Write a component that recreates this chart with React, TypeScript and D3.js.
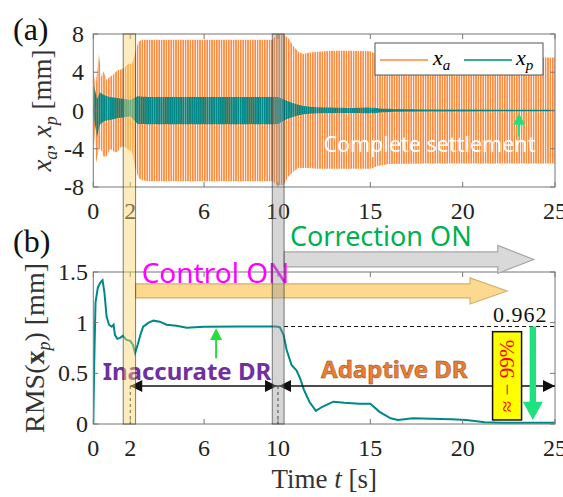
import React from 'react';
import * as d3 from 'd3';

// ---- data ----
const tickX = [0, 2, 6, 10, 15, 20, 25];
const tickTopY = [-8, -4, 0, 4, 8];
const tickBotY = [0, 0.5, 1, 1.5];

// x_a envelope (peaks of the fast oscillation)
const xaTime = [0, 0.07, 0.15, 0.3, 0.45, 0.55, 0.72, 0.9, 1.1, 1.3, 1.5, 1.7, 1.9, 2.1, 2.26, 2.44, 2.62, 3.0, 5.0, 7.0, 9.0, 9.7, 9.95, 10.3, 10.56, 10.83, 11.1, 11.37, 11.64, 12.1, 13.0, 14.0, 15.0, 15.4, 16.0, 18.0, 20.0, 22.0, 25.0];
const xaUpper = [0, 3.5, 3.0, 5.9, 3.5, 4.1, 3.2, 3.5, 3.8, 4.2, 4.3, 4.5, 4.9, 4.9, 6.0, 7.2, 7.4, 7.4, 7.4, 7.4, 7.4, 7.4, 8.0, 8.0, 7.55, 6.75, 6.15, 5.9, 6.05, 6.15, 6.25, 6.25, 6.2, 5.8, 5.6, 5.55, 5.55, 5.55, 5.55];
const xaLower = [0, -3.0, -5.5, -4.0, -4.2, -4.8, -4.8, -4.0, -4.3, -4.4, -3.8, -3.8, -4.1, -4.3, -5.9, -7.0, -7.3, -7.4, -7.4, -7.4, -7.4, -7.4, -7.8, -7.8, -6.9, -6.4, -6.0, -6.0, -6.0, -6.1, -6.1, -6.1, -6.1, -5.8, -5.6, -5.55, -5.55, -5.55, -5.55];

// x_p envelope
const xpTime = [0, 0.05, 0.2, 0.35, 0.6, 0.9, 1.3, 1.7, 2.0, 2.4, 3.0, 6.0, 9.7, 10.0, 10.38, 10.83, 11.37, 12.1, 13.9, 14.8, 15.2, 15.5, 16.3, 17.0, 18.3, 20.2, 22.0, 25.0];
const xpUpper = [0, 2.6, 1.2, 1.9, 1.6, 1.4, 1.3, 1.2, 1.1, 1.5, 1.4, 1.4, 1.4, 1.4, 1.1, 0.75, 0.47, 0.33, 0.26, 0.32, 0.3, 0.22, 0.15, 0.12, 0.09, 0.07, 0.06, 0.06];
const xpLower = [0, -1.0, -2.8, -1.5, -1.1, -1.0, -0.8, -0.7, -0.6, -1.4, -1.45, -1.45, -1.45, -1.4, -1.0, -0.65, -0.4, -0.3, -0.26, -0.3, -0.28, -0.2, -0.13, -0.1, -0.08, -0.07, -0.06, -0.06];

// RMS(x_p)
const rmsTime = [0, 0.05, 0.12, 0.25, 0.4, 0.5, 0.6, 0.72, 0.85, 1.0, 1.1, 1.17, 1.3, 1.45, 1.6, 1.8, 2.0, 2.15, 2.26, 2.4, 2.55, 2.7, 3.0, 3.25, 3.6, 3.97, 4.5, 5.06, 6.0, 8.0, 9.9, 10.1, 10.3, 10.47, 10.74, 11.0, 11.2, 11.4, 11.7, 12.05, 12.4, 13.0, 13.6, 14.4, 15.0, 15.5, 16.1, 16.5, 17.3, 18.3, 19.4, 20.2, 21.2, 22.1, 25.0];
const rmsValue = [0, 0.6, 1.2, 1.35, 1.40, 1.42, 1.3, 1.06, 0.98, 0.96, 0.98, 0.88, 0.84, 0.85, 0.87, 0.83, 0.82, 0.78, 0.70, 0.78, 0.88, 0.96, 1.0, 1.02, 1.01, 0.98, 0.97, 0.95, 0.96, 0.962, 0.962, 0.955, 0.88, 0.73, 0.58, 0.53, 0.45, 0.34, 0.22, 0.13, 0.17, 0.22, 0.21, 0.20, 0.20, 0.12, 0.056, 0.04, 0.056, 0.053, 0.046, 0.04, 0.017, 0.013, 0.013];

// shaded phases [start, end] in seconds
const controlBand = [1.62, 2.29];
const correctionBand = [9.69, 10.33];
const steadyRms = 0.962;

const ORANGE = '#fd8a3d';
const TEAL = '#008787';
const SERIF = "'Liberation Serif', 'Times New Roman', serif";
const SANS = "'Noto Sans', 'Open Sans', sans-serif";

export default function App() {
    const x = d3.scaleLinear().domain([0, 25]).range([93.3, 555]);
    const yA = d3.scaleLinear().domain([-8, 8]).range([187, 34]);
    const yB = d3.scaleLinear().domain([0, 1.5]).range([424, 272]);

    const xaArea = d3.area<number>()
        .x(i => x(xaTime[i])).y0(i => yA(xaLower[i])).y1(i => yA(xaUpper[i]));
    const xpArea = d3.area<number>()
        .x(i => x(xpTime[i])).y0(i => yA(xpLower[i])).y1(i => yA(xpUpper[i]));
    const rmsLine = d3.line<number>()
        .x(i => x(rmsTime[i])).y(i => yB(rmsValue[i]));

    const [x0, x1] = x.range();

    // block arrow polygon
    const blockArrow = (xs: number, xh: number, xt: number, yc: number, bh: number, hh: number) =>
        `${xs},${yc - bh} ${xh},${yc - bh} ${xh},${yc - hh} ${xt},${yc} ${xh},${yc + hh} ${xh},${yc + bh} ${xs},${yc + bh}`;

    // vertical thin arrow, tip at yt, head base yh, tail ys
    const vArrow = (xc: number, ys: number, yh: number, yt: number, sw: number, hw: number) =>
        `${xc - sw},${ys} ${xc - sw},${yh} ${xc - hw},${yh} ${xc},${yt} ${xc + hw},${yh} ${xc + sw},${yh} ${xc + sw},${ys}`;

    const axisBox = (yScale: d3.ScaleLinear<number, number>, yTicks: number[], labelRight: number) => {
        const [yb, yt] = yScale.range();
        return (
            <g>
                <rect x={x0} y={yt} width={x1 - x0} height={yb - yt} fill="none" stroke="#777" strokeWidth={1} />
                {tickX.map(t => (
                    <g key={'tx' + t}>
                        <line x1={x(t)} x2={x(t)} y1={yb} y2={yb - 5} stroke="#777" />
                        <line x1={x(t)} x2={x(t)} y1={yt} y2={yt + 5} stroke="#777" />
                    </g>
                ))}
                {yTicks.map(v => (
                    <g key={'ty' + v}>
                        <line x1={x0} x2={x0 + 5} y1={yScale(v)} y2={yScale(v)} stroke="#777" />
                        <line x1={x1} x2={x1 - 5} y1={yScale(v)} y2={yScale(v)} stroke="#777" />
                        <text x={labelRight} y={yScale(v) + 8} textAnchor="end" fontSize={24} fontFamily={SERIF} fill="#222">{v}</text>
                    </g>
                ))}
                {tickX.map(t => (
                    <text key={'lx' + t} x={x(t)} y={yb + 32} textAnchor="middle" fontSize={24} fontFamily={SERIF} fill="#222">{t}</text>
                ))}
            </g>
        );
    };

    const arrowY = yB(0.375);
    const head = (xt: number, dir: number) =>
        `${xt},${arrowY} ${xt - dir * 12},${arrowY - 6} ${xt - dir * 12},${arrowY + 6}`;

    return (
        <svg width={563} height={497} style={{ position: 'absolute', left: 0, top: 0, background: '#fff' }}>
            <defs>
                <pattern id="stripeA" width={2.4} height={10} patternUnits="userSpaceOnUse">
                    <rect width={1.6} height={10} fill={ORANGE} />
                </pattern>
                <pattern id="stripeP" width={2.2} height={10} patternUnits="userSpaceOnUse">
                    <rect width={1.9} height={10} fill={TEAL} />
                </pattern>
                <clipPath id="clipA">
                    <rect x={x0} y={yA(8)} width={x1 - x0} height={yA(-8) - yA(8)} />
                </clipPath>
                <clipPath id="clipB">
                    <rect x={x0} y={yB(1.5)} width={x1 - x0} height={yB(0) - yB(1.5)} />
                </clipPath>
            </defs>

            {/* (a) displacement */}
            <g clipPath="url(#clipA)">
                <path d={xaArea(d3.range(xaTime.length)) || ''} fill="url(#stripeA)" />
                <path d={xpArea(d3.range(xpTime.length)) || ''} fill="url(#stripeP)" />
                <line x1={x(15)} x2={x1} y1={yA(0)} y2={yA(0)} stroke={TEAL} strokeWidth={1.5} />
            </g>
            {axisBox(yA, tickTopY, 84)}

            <rect x={375} y={43} width={168} height={32} fill="#fff" stroke="#555" />
            <line x1={380} x2={428} y1={60} y2={60} stroke={ORANGE} strokeWidth={1.5} />
            <text x={433} y={65} fontSize={22} fontFamily={SERIF} fontStyle="italic">x<tspan fontSize={15} dy={5}>a</tspan></text>
            <line x1={464} x2={512} y1={60} y2={60} stroke={TEAL} strokeWidth={1.5} />
            <text x={516} y={65} fontSize={22} fontFamily={SERIF} fontStyle="italic">x<tspan fontSize={15} dy={5}>p</tspan></text>

            <text x={x(18.2)} y={yA(-4.35)} textAnchor="middle" fontSize={21.5} fontFamily={SANS} fill="#fff">Complete settlement</text>
            <polygon points={vArrow(x(23.05), yA(-2.71), yA(-1.5), yA(-0.29), 1, 6)} fill="#1ee27e" />

            <text x={13} y={40} fontSize={32} fontFamily={SERIF} fill="#111">(a)</text>
            <text transform={`translate(51,${yA(0)}) rotate(-90)`} textAnchor="middle" fontSize={27} fontFamily={SERIF} fill="#333">
                <tspan fontStyle="italic">x</tspan><tspan fontStyle="italic" fontSize={18} dy={6}>a</tspan>
                <tspan dy={-6}>, </tspan><tspan fontStyle="italic">x</tspan><tspan fontStyle="italic" fontSize={18} dy={6}>p</tspan>
                <tspan dy={-6}>{'  [mm]'}</tspan>
            </text>

            {/* (b) RMS */}
            <g clipPath="url(#clipB)">
                <path d={rmsLine(d3.range(rmsTime.length)) || ''} fill="none" stroke={TEAL} strokeWidth={2} />
            </g>
            {axisBox(yB, tickBotY, 88)}

            <line x1={x(correctionBand[1])} x2={x1} y1={yB(steadyRms)} y2={yB(steadyRms)} stroke="#111" strokeDasharray="4,3" />
            <text x={x(24.6)} y={yB(1.007)} textAnchor="end" fontSize={22} fontFamily={SERIF} letterSpacing={1} fill="#111">0.962</text>

            <polygon points={blockArrow(x(correctionBand[1]), x(21.9), x(23.85), yB(1.624), 7.5, 14)} fill="#d9d9d9" stroke="#a6a6a6" strokeWidth={1.2} />
            <text x={x(10.65)} y={yB(1.76)} fontSize={27} fontFamily={SANS} fill="#00b050">Correction ON</text>
            <polygon points={blockArrow(x(controlBand[1]), x(20.4), x(22.4), yB(1.313), 7, 13)} fill="#fcd98e" stroke="#d4b06a" strokeWidth={1.2} />
            <text x={x(2.62)} y={yB(1.392)} fontSize={28} fontFamily={SANS} fill="#ff00ff">Control ON</text>

            <polygon points={vArrow(x(6.65), yB(0.65), yB(0.83), yB(0.945), 1, 6)} fill="#22e03a" />

            <text x={x(5.07)} y={yB(0.434)} textAnchor="middle" fontSize={24} fontWeight="bold" fontFamily={SANS} fill="#7030a0">Inaccurate DR</text>
            <text x={x(16.3)} y={yB(0.454)} textAnchor="middle" fontSize={24} fontWeight="bold" fontFamily={SANS} fill="#ed7d31" stroke="#8a4a1c" strokeWidth={0.5}>Adaptive DR</text>

            {/* phase spans */}
            {[2, 10].map(t => (
                <line key={'d' + t} x1={x(t)} x2={x(t)} y1={arrowY} y2={yB(0)} stroke="#111" strokeDasharray="3,3" />
            ))}
            <line x1={x(2)} x2={x(10)} y1={arrowY} y2={arrowY} stroke="#111" strokeWidth={1.5} />
            <line x1={x(10)} x2={x(25)} y1={arrowY} y2={arrowY} stroke="#111" strokeWidth={1.5} />
            <polygon points={head(x(2), -1)} fill="#111" />
            <polygon points={head(x(10) - 1, 1)} fill="#111" />
            <polygon points={head(x(10) + 1, -1)} fill="#111" />
            <polygon points={head(x(25), 1)} fill="#111" />

            <rect x={x(21.62)} y={yB(0.911)} width={x(23.19) - x(21.62)} height={yB(0.04) - yB(0.911)} fill="#ffff00" stroke="#111" strokeWidth={1.5} />
            <text transform={`translate(${x(22.4) + 7},${yB(0.474)}) rotate(-90)`} textAnchor="middle" fontSize={21} fontFamily={SERIF} fill="#ff0000">≈ − 99%</text>
            <polygon points={vArrow(x(23.8), yB(steadyRms), yB(0.22), yB(0.04), 3.2, 10)} fill="#1ee27e" />

            <text x={13} y={252} fontSize={32} fontFamily={SERIF} fill="#111">(b)</text>
            <text transform={`translate(44,${yB(0.75)}) rotate(-90)`} textAnchor="middle" fontSize={28} fontFamily={SERIF} fill="#333">
                <tspan>RMS(</tspan><tspan fontWeight="bold">x</tspan><tspan fontStyle="italic" fontSize={18} dy={6}>p</tspan>
                <tspan dy={-6}>{')  [mm]'}</tspan>
            </text>
            <text x={(x0 + x1) / 2} y={488} textAnchor="middle" fontSize={27} fontFamily={SERIF} fill="#333">
                Time <tspan fontStyle="italic">t</tspan> [s]
            </text>

            {/* shaded bands across both panels */}
            {[controlBand, correctionBand].map((b, i) => (
                <rect key={'band' + i} x={x(b[0])} y={yA(8)} width={x(b[1]) - x(b[0])} height={yB(0) - yA(8)}
                    fill={i === 0 ? 'rgba(250,212,110,0.45)' : 'rgba(150,150,150,0.4)'}
                    stroke="rgba(40,40,40,0.6)" strokeWidth={1} />
            ))}
        </svg>
    );
}
